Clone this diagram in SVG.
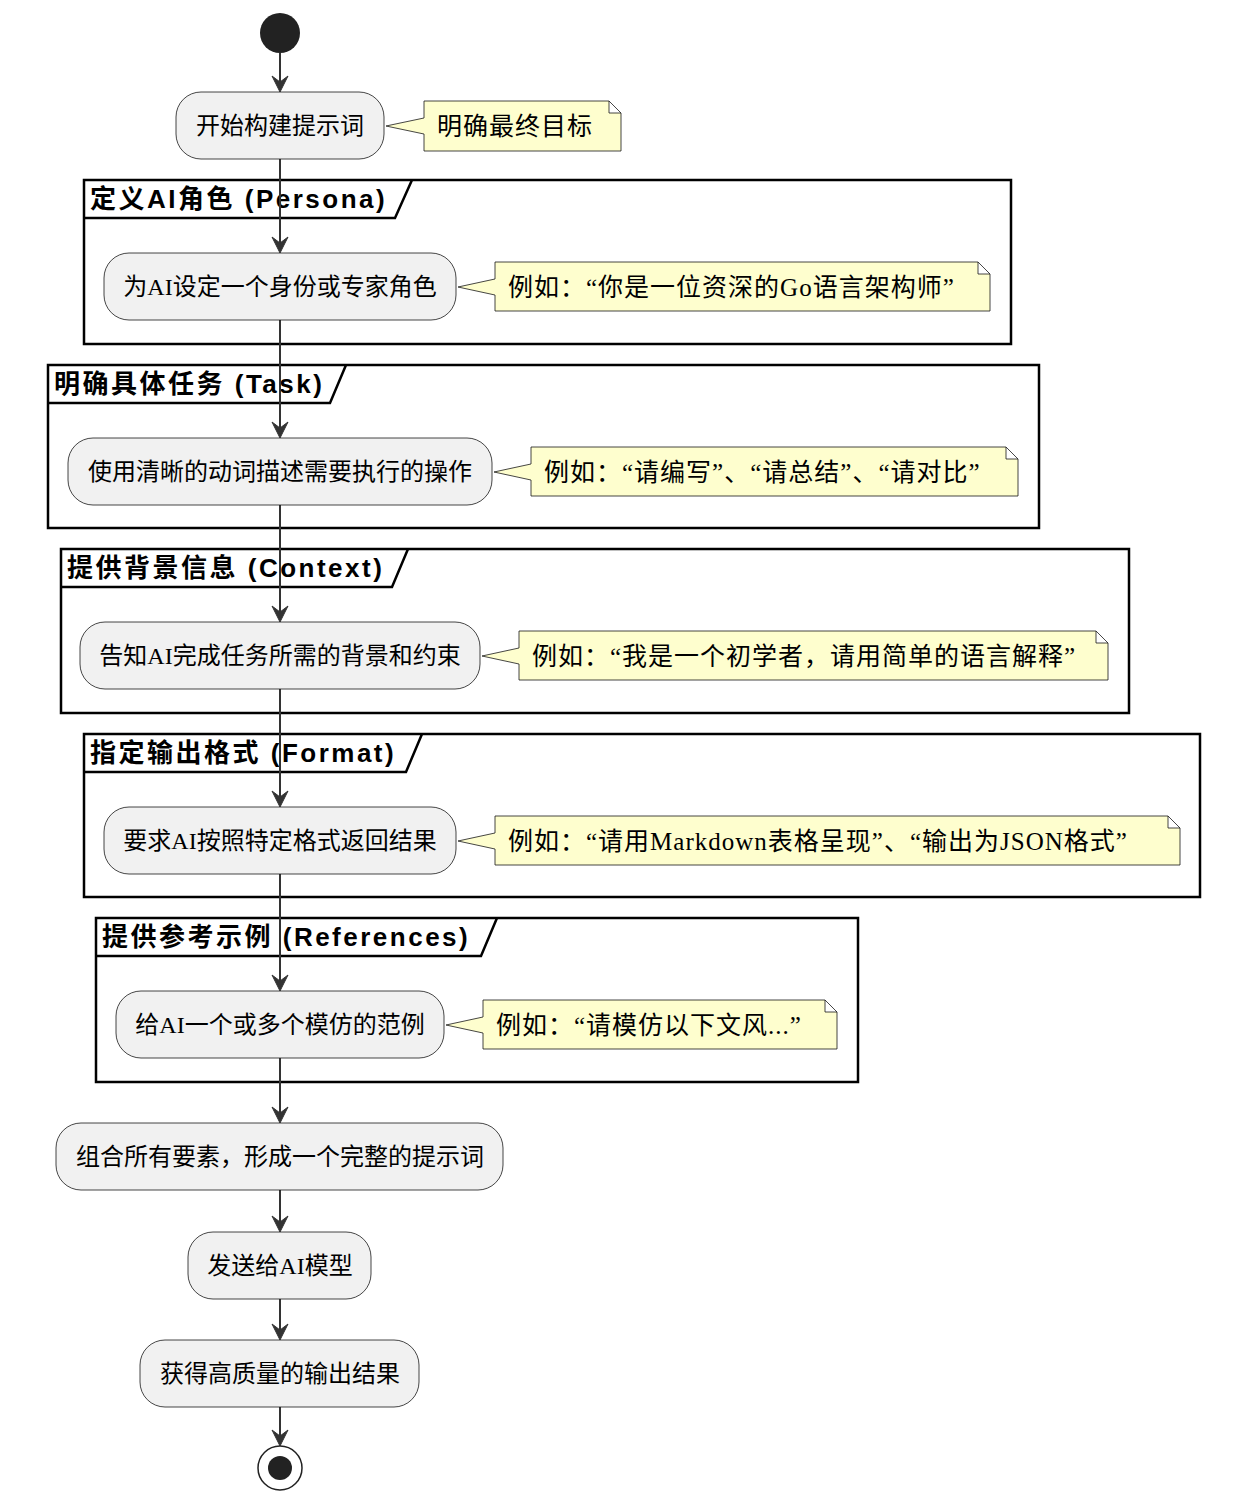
<svg xmlns="http://www.w3.org/2000/svg" width="1234" height="1502" viewBox="0 0 1234 1502">
<defs>
<style>
.n rect{fill:#f1f1f1;stroke:#181818;stroke-width:0.8}
.t{font-family:"Liberation Serif","Noto Sans CJK SC",serif;font-size:24px;fill:#000}
.nt{font-family:"Liberation Serif","Noto Sans CJK SC",serif;font-size:25px;letter-spacing:1px;fill:#000}
.note path{fill:#fefece;stroke:#181818;stroke-width:0.8}
.p rect,.p path{fill:none;stroke:#000;stroke-width:2.5}
.h{font-family:"Liberation Sans","Noto Sans CJK SC",sans-serif;font-size:26px;font-weight:bold;letter-spacing:2.5px;fill:#000}
.c line{stroke:#333;stroke-width:2}
.c polygon{fill:#333;stroke:#333}
</style>
</defs>
<rect width="1234" height="1502" fill="#fff"/>
<g id="start"><circle cx="280" cy="33" r="20" fill="#222"/></g>

<g id="p1" class="p"><rect x="84" y="180" width="927" height="164"/><path d="M84 218 H395 L412 180"/><text class="h" x="90" y="208">定义AI角色 (Persona)</text></g>
<g id="p2" class="p"><rect x="48" y="365" width="991" height="163"/><path d="M48 403 H330 L346 365"/><text class="h" x="54" y="393">明确具体任务 (Task)</text></g>
<g id="p3" class="p"><rect x="61" y="549" width="1068" height="164"/><path d="M61 587 H392 L408 549"/><text class="h" x="67" y="577">提供背景信息 (Context)</text></g>
<g id="p4" class="p"><rect x="84" y="734" width="1116" height="163"/><path d="M84 772 H406 L422 734"/><text class="h" x="90" y="762">指定输出格式 (Format)</text></g>
<g id="p5" class="p"><rect x="96" y="918" width="762" height="164"/><path d="M96 956 H481 L497 918"/><text class="h" x="102" y="946">提供参考示例 (References)</text></g>

<g id="connectors" class="c">
<line x1="280" y1="53" x2="280" y2="88"/><polygon points="272,76 280,92 288,76 280,82"/>
<line x1="280" y1="159" x2="280" y2="249"/><polygon points="272,237 280,253 288,237 280,243"/>
<line x1="280" y1="320" x2="280" y2="434"/><polygon points="272,422 280,438 288,422 280,428"/>
<line x1="280" y1="505" x2="280" y2="618"/><polygon points="272,606 280,622 288,606 280,612"/>
<line x1="280" y1="689" x2="280" y2="803"/><polygon points="272,791 280,807 288,791 280,797"/>
<line x1="280" y1="874" x2="280" y2="987"/><polygon points="272,975 280,991 288,975 280,981"/>
<line x1="280" y1="1058" x2="280" y2="1119"/><polygon points="272,1107 280,1123 288,1107 280,1113"/>
<line x1="280" y1="1190" x2="280" y2="1228"/><polygon points="272,1216 280,1232 288,1216 280,1222"/>
<line x1="280" y1="1299" x2="280" y2="1336"/><polygon points="272,1324 280,1340 288,1324 280,1330"/>
<line x1="280" y1="1407" x2="280" y2="1442"/><polygon points="272,1430 280,1446 288,1430 280,1436"/>
</g>

<g id="n1" class="n"><rect x="176" y="92" width="208" height="67" rx="25"/><text class="t" x="280" y="134" text-anchor="middle">开始构建提示词</text></g>
<g id="note1" class="note"><path d="M424 101 H609 L621 113 V151 H424 V134 L386 126 L424 118 Z M609 101 V113 H621"/><text class="nt" x="437" y="135">明确最终目标</text></g>

<g id="n2" class="n"><rect x="104" y="253" width="352" height="67" rx="25"/><text class="t" x="280" y="295" text-anchor="middle">为AI设定一个身份或专家角色</text></g>
<g id="note2" class="note"><path d="M495 262 H978 L990 274 V311 H495 V295 L458 287 L495 279 Z M978 262 V274 H990"/><text class="nt" x="508" y="296">例如：“你是一位资深的Go语言架构师”</text></g>

<g id="n3" class="n"><rect x="68" y="438" width="424" height="67" rx="25"/><text class="t" x="280" y="480" text-anchor="middle">使用清晰的动词描述需要执行的操作</text></g>
<g id="note3" class="note"><path d="M531 447 H1006 L1018 459 V496 H531 V480 L494 472 L531 464 Z M1006 447 V459 H1018"/><text class="nt" x="544" y="481">例如：“请编写”、“请总结”、“请对比”</text></g>

<g id="n4" class="n"><rect x="80" y="622" width="400" height="67" rx="25"/><text class="t" x="280" y="664" text-anchor="middle">告知AI完成任务所需的背景和约束</text></g>
<g id="note4" class="note"><path d="M519 631 H1096 L1108 643 V680 H519 V664 L482 656 L519 648 Z M1096 631 V643 H1108"/><text class="nt" x="532" y="665">例如：“我是一个初学者，请用简单的语言解释”</text></g>

<g id="n5" class="n"><rect x="104" y="807" width="352" height="67" rx="25"/><text class="t" x="280" y="849" text-anchor="middle">要求AI按照特定格式返回结果</text></g>
<g id="note5" class="note"><path d="M495 816 H1168 L1180 828 V865 H495 V849 L458 841 L495 833 Z M1168 816 V828 H1180"/><text class="nt" x="508" y="850">例如：“请用Markdown表格呈现”、“输出为JSON格式”</text></g>

<g id="n6" class="n"><rect x="116" y="991" width="328" height="67" rx="25"/><text class="t" x="280" y="1033" text-anchor="middle">给AI一个或多个模仿的范例</text></g>
<g id="note6" class="note"><path d="M483 1000 H825 L837 1012 V1049 H483 V1033 L446 1025 L483 1017 Z M825 1000 V1012 H837"/><text class="nt" x="496" y="1034">例如：“请模仿以下文风...”</text></g>

<g id="n7" class="n"><rect x="56" y="1123" width="447" height="67" rx="25"/><text class="t" x="280" y="1165" text-anchor="middle">组合所有要素，形成一个完整的提示词</text></g>
<g id="n8" class="n"><rect x="188" y="1232" width="183" height="67" rx="25"/><text class="t" x="280" y="1274" text-anchor="middle">发送给AI模型</text></g>
<g id="n9" class="n"><rect x="140" y="1340" width="279" height="67" rx="25"/><text class="t" x="280" y="1382" text-anchor="middle">获得高质量的输出结果</text></g>
<g id="end"><circle cx="280" cy="1468" r="22" fill="#fff" stroke="#222" stroke-width="1.5"/><circle cx="280" cy="1468" r="12" fill="#222"/></g>
</svg>
